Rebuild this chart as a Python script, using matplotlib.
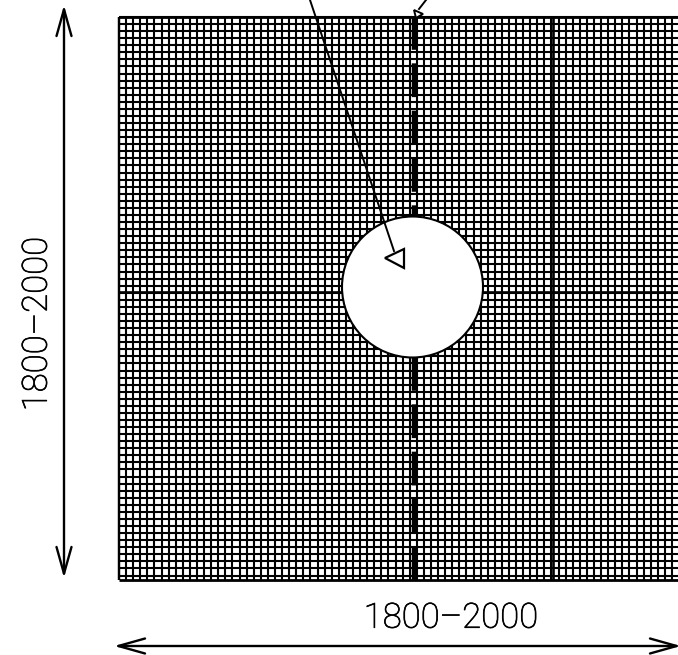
import numpy as np
import matplotlib
matplotlib.use("Agg")
import matplotlib.pyplot as plt
import matplotlib.patheffects as pe
from matplotlib.patches import Circle, Polygon

width_label = "1800\u20132000"
height_label = "1800\u20132000"
grid_left, grid_right = 119, 678
grid_top, grid_bottom = 17, 580
pitch_x = 7.09
pitch_y = 7.07
thick_x = [552.5]
thick_y = [291.5]
dash_x = 414.2
dash_runs = [(15.5, 217), (357.4, 581)]
hole_centre = (412.5, 287)
hole_radius = 70.5

fig = plt.figure(figsize=(6.78, 6.55), dpi=100)
ax = fig.add_axes([0, 0, 1, 1])
ax.set_xlim(0, 678)
ax.set_ylim(655, 0)
ax.axis("off")
lw = 1.5
xs = np.arange(grid_left, grid_right + 1, pitch_x)
ys = np.arange(grid_top, grid_bottom + 1, pitch_y)
ax.vlines(xs, grid_top, grid_bottom, color="k", lw=lw, zorder=1)
ax.hlines(ys, grid_left, grid_right, color="k", lw=lw, zorder=1)
ax.hlines([grid_top, grid_bottom], grid_left, grid_right, color="k", lw=2, zorder=1)
ax.vlines([grid_left], grid_top, grid_bottom, color="k", lw=1.7, zorder=1)
ax.vlines(thick_x, grid_top, grid_bottom, color="k", lw=1.9, zorder=1)
ax.hlines(thick_y, grid_left, grid_right, color="k", lw=1.9, zorder=1)
for run in dash_runs:
    ax.plot([dash_x, dash_x], run, color="k", lw=3.2, dashes=(7.6, 3.05), zorder=2)
ax.add_patch(Circle(hole_centre, hole_radius, fc="white", ec="k", lw=1.5, zorder=3))

# leaders
ax.plot([310, 394], [0, 251], color="k", lw=1.4, zorder=4)
ax.add_patch(Polygon([[385, 258], [404, 249], [404, 268]], closed=True, fc="white", ec="k", lw=1.6, zorder=5))
ax.plot([426, 419], [0, 9], color="k", lw=1.4, zorder=4)
ax.add_patch(Polygon([[414, 10], [423, 14], [416, 18]], closed=True, fc="white", ec="k", lw=1.4, zorder=5))

# dimension arrows
def arrow(p0, p1):
    ax.annotate("", xy=p1, xytext=p0, annotation_clip=False,
                arrowprops=dict(arrowstyle="<->,head_length=1.6,head_width=0.45", lw=1.7, color="k", shrinkA=0, shrinkB=0, mutation_scale=12))
arrow((64, 5), (64, 578))
arrow((114, 646), (681, 646))

stroke = [pe.withStroke(linewidth=0.5, foreground="k")]
ax.text(451, 618, width_label, ha="center", va="center", fontsize=25, family="Roboto", fontweight="light", color="k", path_effects=stroke)
ax.text(37, 324, height_label, ha="center", va="center", rotation=90, fontsize=25, family="Roboto", fontweight="light", color="k", path_effects=stroke)
fig.savefig("out.png", dpi=100)
